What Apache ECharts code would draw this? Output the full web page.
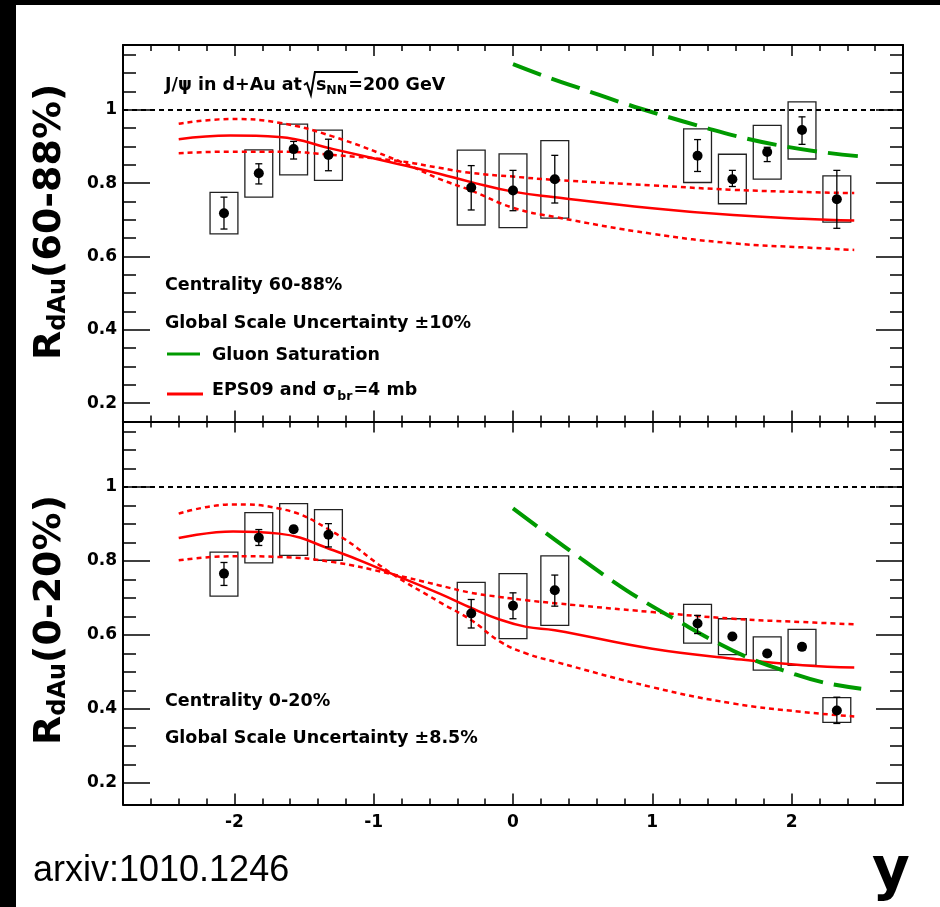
<!DOCTYPE html>
<html><head><meta charset="utf-8">
<script src="https://cdn.jsdelivr.net/npm/echarts@6/dist/echarts.min.js"></script>
<style>html,body{margin:0;padding:0;background:#fff;}#c{width:940px;height:907px;}</style>
</head><body><div id="c"></div>
<script>
// ---------------- DATA ----------------
const rapidity = [-2.075, -1.825, -1.575, -1.325, -0.3, 0.0, 0.3, 1.325, 1.575, 1.825, 2.075, 2.325];
const boxHalfWidth = 0.1;

// Centrality 60-88%
const rPeriph      = [0.718, 0.827, 0.893, 0.877, 0.788, 0.780, 0.811, 0.875, 0.811, 0.885, 0.945, 0.756];
const statLoPeriph = [0.675, 0.798, 0.866, 0.834, 0.727, 0.725, 0.746, 0.832, 0.791, 0.859, 0.906, 0.677];
const statHiPeriph = [0.762, 0.853, 0.914, 0.920, 0.848, 0.835, 0.876, 0.919, 0.835, 0.898, 0.981, 0.835];
const sysLoPeriph  = [0.662, 0.762, 0.823, 0.808, 0.686, 0.679, 0.705, 0.802, 0.744, 0.811, 0.866, 0.694];
const sysHiPeriph  = [0.775, 0.891, 0.961, 0.945, 0.890, 0.880, 0.916, 0.948, 0.879, 0.958, 1.022, 0.820];

// Centrality 0-20%
const rCentral      = [0.766, 0.863, 0.886, 0.871, 0.658, 0.679, 0.721, 0.631, 0.596, 0.550, 0.568, 0.396];
const statLoCentral = [0.734, 0.842, 0.878, 0.838, 0.619, 0.644, 0.678, 0.604, 0.588, 0.542, 0.560, 0.361];
const statHiCentral = [0.796, 0.885, 0.894, 0.901, 0.696, 0.714, 0.762, 0.653, 0.604, 0.558, 0.576, 0.432];
const sysLoCentral  = [0.705, 0.795, 0.815, 0.802, 0.572, 0.590, 0.626, 0.578, 0.547, 0.505, 0.518, 0.364];
const sysHiCentral  = [0.824, 0.931, 0.955, 0.939, 0.742, 0.766, 0.814, 0.683, 0.644, 0.595, 0.615, 0.431];

// EPS09 curves (60-88%)
const epsPeriphY   = [-2.4, -2.03, -1.68, -1.29, -0.81, -0.53, -0.3, 0.0, 0.3, 1.0, 1.58, 2.08, 2.45];
const epsPeriph    = [0.920, 0.930, 0.926, 0.893, 0.851, 0.826, 0.803, 0.777, 0.762, 0.732, 0.713, 0.703, 0.698];
const epsPeriphA   = [0.962, 0.975, 0.965, 0.927, 0.859, 0.812, 0.780, 0.733, 0.708, 0.662, 0.636, 0.625, 0.618];
const epsPeriphB   = [0.882, 0.886, 0.886, 0.877, 0.860, 0.842, 0.828, 0.818, 0.809, 0.794, 0.782, 0.776, 0.773];
// Gluon saturation (60-88%)
const cgcPeriphY   = [0.0, 0.264, 0.503, 0.779, 1.066, 1.365, 1.641, 1.928, 2.215, 2.5];
const cgcPeriph    = [1.125, 1.087, 1.056, 1.020, 0.986, 0.953, 0.925, 0.902, 0.885, 0.873];

// EPS09 curves (0-20%)
const epsCentralY  = [-2.4, -2.01, -1.68, -1.29, -0.886, -0.527, -0.299, -0.096, 0.096, 0.3, 1.0, 1.58, 2.08, 2.45];
const epsCentral   = [0.862, 0.880, 0.874, 0.829, 0.768, 0.712, 0.673, 0.642, 0.622, 0.613, 0.563, 0.536, 0.518, 0.512];
const epsCentralA  = [0.928, 0.953, 0.942, 0.878, 0.770, 0.689, 0.640, 0.583, 0.550, 0.528, 0.459, 0.415, 0.392, 0.380];
const epsCentralB  = [0.802, 0.813, 0.811, 0.797, 0.766, 0.734, 0.714, 0.703, 0.694, 0.686, 0.662, 0.644, 0.635, 0.629];
// Gluon saturation (0-20%)
const cgcCentralY  = [0.0, 0.192, 0.431, 0.718, 0.91, 1.198, 1.437, 1.677, 1.976, 2.227, 2.5];
const cgcCentral   = [0.942, 0.888, 0.822, 0.745, 0.698, 0.635, 0.585, 0.541, 0.500, 0.472, 0.455];

const unityLevel = 1;

// tick labels
const xTickLabels = [-2, -1, 0, 1, 2];
const yTickLabels = [0.2, 0.4, 0.6, 0.8, 1.0];

// ---------------- LAYOUT ----------------
const FONT = '"DejaVu Sans", sans-serif';
const xRange = [-2.8, 2.8];
const yRanges = [[0.15, 1.177], [0.142, 1.177]];
const grids = [
  {left: 123, top: 45, width: 780, height: 376.5},
  {left: 123, top: 421.5, width: 780, height: 383}
];

function minorVals(from, to, step, majors) {
  const out = [];
  for (let v = from; v <= to + 1e-9; v += step) {
    const r = Math.round(v * 100) / 100;
    if (!majors.some(m => Math.abs(m - r) < 1e-6)) out.push(r);
  }
  return out;
}
const xMinor = minorVals(-2.6, 2.6, 0.2, xTickLabels);
const yMinor = minorVals(0.25, 1.15, 0.05, yTickLabels);

const black = '#000';
function xAx(g, pos, major, showLabel) {
  return {
    type: 'value', gridIndex: g, position: pos, min: xRange[0], max: xRange[1],
    axisLine: {show: major, onZero: false, lineStyle: {color: black, width: 2}},
    axisTick: {show: true, inside: true, length: major ? 11 : 6,
      customValues: major ? xTickLabels : xMinor, lineStyle: {color: black, width: 1.5}},
    axisLabel: {show: showLabel, customValues: xTickLabels, margin: 10,
      fontFamily: FONT, fontWeight: 'bold', fontSize: 17, color: black,
      formatter: v => String(v)},
    splitLine: {show: false}
  };
}
function yAx(g, pos, major, showLabel) {
  return {
    type: 'value', gridIndex: g, position: pos, min: yRanges[g][0], max: yRanges[g][1],
    axisLine: {show: major, onZero: false, lineStyle: {color: black, width: 2}},
    axisTick: {show: true, inside: true, length: major ? 27 : 13,
      customValues: major ? yTickLabels : yMinor, lineStyle: {color: black, width: 1.5}},
    axisLabel: {show: showLabel, customValues: yTickLabels, margin: 6,
      fontFamily: FONT, fontWeight: 'bold', fontSize: 17, color: black,
      formatter: v => (Math.abs(v - 1) < 1e-9 ? '1' : v.toFixed(1))},
    splitLine: {show: false}
  };
}

const xAxes = [], yAxes = [];
for (let g = 0; g < 2; g++) {
  xAxes.push(xAx(g, 'bottom', true, g === 1));
  xAxes.push(xAx(g, 'bottom', false, false));
  xAxes.push(xAx(g, 'top', true, false));
  xAxes.push(xAx(g, 'top', false, false));
  yAxes.push(yAx(g, 'left', true, true));
  yAxes.push(yAx(g, 'left', false, false));
  yAxes.push(yAx(g, 'right', true, false));
  yAxes.push(yAx(g, 'right', false, false));
}

function pairs(xs, ys) { return xs.map((x, i) => [x, ys[i]]); }
function triples(xs, lo, hi) { return xs.map((x, i) => [x, lo[i], hi[i]]); }

function boxRender(params, api) {
  const x = api.value(0), lo = api.value(1), hi = api.value(2);
  const p1 = api.coord([x - boxHalfWidth, hi]);
  const p2 = api.coord([x + boxHalfWidth, lo]);
  return {type: 'rect', shape: {x: p1[0], y: p1[1], width: p2[0] - p1[0], height: p2[1] - p1[1]},
    style: {fill: 'none', stroke: '#222', lineWidth: 1.3}};
}
function errRender(params, api) {
  const x = api.value(0), lo = api.value(1), hi = api.value(2);
  const a = api.coord([x, hi]), b = api.coord([x, lo]);
  const c = 3.5, st = {stroke: black, lineWidth: 1.3};
  return {type: 'group', children: [
    {type: 'line', shape: {x1: a[0], y1: a[1], x2: b[0], y2: b[1]}, style: st},
    {type: 'line', shape: {x1: a[0] - c, y1: a[1], x2: a[0] + c, y2: a[1]}, style: st},
    {type: 'line', shape: {x1: b[0] - c, y1: b[1], x2: b[0] + c, y2: b[1]}, style: st}
  ]};
}

function panelSeries(g, r, sLo, sHi, eLo, eHi, eY, e, eA, eB, cY, c) {
  const xi = g * 4, yi = g * 4;
  const base = {xAxisIndex: xi, yAxisIndex: yi, silent: true, animation: false};
  const lineBase = Object.assign({}, base, {type: 'line', showSymbol: false, symbol: 'none', smooth: 0.45});
  return [
    Object.assign({}, base, {type: 'custom', renderItem: boxRender, data: triples(rapidity, sLo, sHi),
      encode: {x: 0, y: [1, 2]}, z: 2,
      markLine: {symbol: 'none', silent: true, label: {show: false},
        lineStyle: {color: black, width: 2, type: [5, 4]}, data: [{yAxis: unityLevel}]}}),
    Object.assign({}, lineBase, {data: pairs(eY, eA), z: 3,
      lineStyle: {color: '#ff0000', width: 2.5, type: [5, 4]}}),
    Object.assign({}, lineBase, {data: pairs(eY, eB), z: 3,
      lineStyle: {color: '#ff0000', width: 2.5, type: [5, 4]}}),
    Object.assign({}, lineBase, {data: pairs(eY, e), z: 3,
      lineStyle: {color: '#ff0000', width: 2.5, type: 'solid'}}),
    Object.assign({}, lineBase, {data: pairs(cY, c), z: 3,
      lineStyle: {color: '#009a00', width: 4, type: [30, 11]}}),
    Object.assign({}, base, {type: 'custom', renderItem: errRender, data: triples(rapidity, eLo, eHi),
      encode: {x: 0, y: [1, 2]}, z: 4}),
    Object.assign({}, base, {type: 'scatter', data: pairs(rapidity, r), symbol: 'circle', symbolSize: 10,
      itemStyle: {color: black, opacity: 1}, z: 5})
  ];
}

const series = [].concat(
  panelSeries(0, rPeriph, sysLoPeriph, sysHiPeriph, statLoPeriph, statHiPeriph,
    epsPeriphY, epsPeriph, epsPeriphA, epsPeriphB, cgcPeriphY, cgcPeriph),
  panelSeries(1, rCentral, sysLoCentral, sysHiCentral, statLoCentral, statHiCentral,
    epsCentralY, epsCentral, epsCentralA, epsCentralB, cgcCentralY, cgcCentral)
);

// ---------------- TEXT ----------------
const mctx = document.createElement('canvas').getContext('2d');
function tw(t, size, weight, fam) { mctx.font = `${weight || 'bold'} ${size}px ${fam || FONT}`; return mctx.measureText(t).width; }
function T(x, y, text, size, extra) {
  return Object.assign({type: 'text', x: x, y: y, z: 100, silent: true,
    style: {text: text, fontSize: size, fontFamily: FONT, fontWeight: 'bold', fill: black,
      align: 'left', verticalAlign: 'middle', textAlign: 'left', textVerticalAlign: 'middle'}}, extra || {});
}
const TS = 17.5, SUB = 12.5;
const elements = [];
// header
{
  const t1 = 'J/\u03c8 in d+Au at';
  elements.push(T(165, 85, t1, TS));
  const x0 = 165 + tw(t1, TS) + 3;
  elements.push({type: 'polyline', z: 100, silent: true,
    shape: {points: [[x0 - 1, 85], [x0 + 2, 83], [x0 + 6, 95], [x0 + 10, 72], [x0 + 53, 72]]},
    style: {stroke: black, lineWidth: 2, fill: 'none'}});
  const xs = x0 + 11;
  elements.push(T(xs, 85, 's', TS));
  const xn = xs + tw('s', TS);
  elements.push(T(xn, 91, 'NN', SUB));
  const xe = xn + tw('NN', SUB) + 1;
  elements.push(T(xe, 85, '=200 GeV', TS));
}
elements.push(T(165, 285, 'Centrality 60-88%', TS));
elements.push(T(165, 323.5, 'Global Scale Uncertainty \u00b110%', TS));
elements.push({type: 'line', z: 100, silent: true, shape: {x1: 167, y1: 354, x2: 200, y2: 354},
  style: {stroke: '#009a00', lineWidth: 3}});
elements.push(T(212, 355.5, 'Gluon Saturation', TS));
elements.push({type: 'line', z: 100, silent: true, shape: {x1: 167, y1: 394, x2: 203, y2: 394},
  style: {stroke: '#ff0000', lineWidth: 3}});
{
  const t1 = 'EPS09 and \u03c3';
  elements.push(T(212, 390.5, t1, TS));
  const xb = 212 + tw(t1, TS) + 1;
  elements.push(T(xb, 397, 'br', SUB));
  elements.push(T(xb + tw('br', SUB) + 1, 390.5, '=4 mb', TS));
}
elements.push(T(165, 701.5, 'Centrality 0-20%', TS));
elements.push(T(165, 738.5, 'Global Scale Uncertainty \u00b18.5%', TS));

function yTitle(cx, bottomY, rest) {
  const S = 38, s = 24;
  const wR = tw('R', S), wS = tw('dAu', s);
  return {type: 'group', x: cx, y: bottomY, rotation: Math.PI / 2, z: 100, silent: true, children: [
    T(0, 0, 'R', S),
    T(wR, 9, 'dAu', s),
    T(wR + wS, 0, rest, S)
  ]};
}
elements.push(yTitle(50, 360, '(60-88%)'));
elements.push(yTitle(50, 745, '(0-20%)'));

elements.push({type: 'text', x: 33, y: 871, z: 100, silent: true,
  style: {text: 'arxiv:1010.1246', fontSize: 36, fontFamily: '"Liberation Sans", Arial, sans-serif',
    fontWeight: 'normal', fill: black, align: 'left', verticalAlign: 'middle', textAlign: 'left', textVerticalAlign: 'middle'}});
elements.push(T(872, 874, 'y', 58));

// black frame bands (image border)
elements.push({type: 'rect', z: 0, silent: true, shape: {x: 0, y: 0, width: 940, height: 5}, style: {fill: black}});
elements.push({type: 'rect', z: 0, silent: true, shape: {x: 0, y: 0, width: 16, height: 907}, style: {fill: black}});

const chart = echarts.init(document.getElementById('c'), null, {renderer: 'canvas'});
chart.setOption({
  animation: false,
  backgroundColor: '#fff',
  grid: grids,
  xAxis: xAxes,
  yAxis: yAxes,
  series: series,
  graphic: {elements: elements}
});
</script>
</body></html>
